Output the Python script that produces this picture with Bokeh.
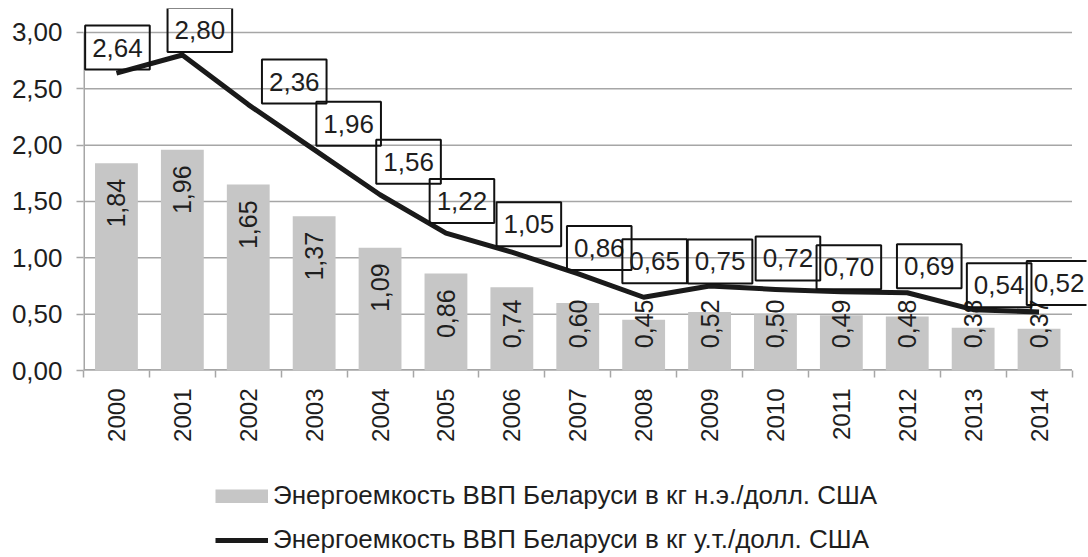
import math
from bokeh.plotting import figure
from bokeh.layouts import column
from bokeh.models import (Range1d, FixedTicker, CustomJSTickFormatter, Legend,
                          LegendItem, Label, ColumnDataSource)
from bokeh.core.properties import value
from bokeh.embed import file_html
from bokeh.resources import INLINE

# ---------------- data ----------------
years = ["2000", "2001", "2002", "2003", "2004", "2005", "2006", "2007",
         "2008", "2009", "2010", "2011", "2012", "2013", "2014"]
energy_toe = [1.84, 1.96, 1.65, 1.37, 1.09, 0.86, 0.74, 0.60,
              0.45, 0.52, 0.50, 0.49, 0.48, 0.38, 0.37]
energy_tce = [2.64, 2.80, 2.36, 1.96, 1.56, 1.22, 1.05, 0.86,
              0.65, 0.75, 0.72, 0.70, 0.69, 0.54, 0.52]
y_ticks = [0.0, 0.5, 1.0, 1.5, 2.0, 2.5, 3.0]
series_names = ["Энергоемкость ВВП Беларуси в кг н.э./долл. США",
                "Энергоемкость ВВП Беларуси в кг у.т./долл. США"]

# label offsets for the boxed line labels (screen px)
label_dx = [1, 17.5, 46, 34.5, 28.5, 16, 17, 21.5, 11, 10.5, 12.5, 7.5, 22, 26, 20]
label_dy = [25.5, 25, 23, 26, 33, 32, 28, 25.5, 36, 24.6, 31, 24.5, 26.5, 24.5, 29]

FONT = "Liberation Sans"
TXT = "#1e1e1e"
GRID = "#a6a6a6"
BAR = "#c6c6c6"
LINE = "#1a1a1a"

n = len(years)
xs = list(range(n))
x_lo, x_hi = -0.5, n - 0.5
y_lo, y_hi = y_ticks[0], y_ticks[-1]
bar_label_y = [max(v - 0.14, 0.63) for v in energy_toe]
src = ColumnDataSource(dict(x=xs, toe=energy_toe, tce=energy_tce,
                            txt=[f"{v:.2f}".replace(".", ",") for v in energy_toe],
                            ly=bar_label_y))

# frame extended a little above/right so that the boxed labels are not clipped
p = figure(width=1088, height=445, x_range=Range1d(x_lo, x_hi + 0.22),
           y_range=Range1d(y_lo, y_hi * 1.071), output_backend="svg",
           toolbar_location=None,
           min_border_left=83, min_border_right=2, min_border_top=8,
           min_border_bottom=75)
p.outline_line_color = None
p.background_fill_color = "white"
p.border_fill_color = "white"

# grid lines and axis lines (limited to the category span)
p.segment(x0=[x_lo] * len(y_ticks), y0=y_ticks, x1=[x_hi] * len(y_ticks), y1=y_ticks,
          line_color=GRID, line_width=1.5)
p.segment(x0=[x_lo], y0=[y_lo], x1=[x_lo], y1=[y_hi], line_color=GRID, line_width=3)
p.segment(x0=[x_lo], y0=[y_lo], x1=[x_hi], y1=[y_lo], line_color=GRID, line_width=3)

bars = p.vbar(x="x", top="toe", width=0.65, source=src, fill_color=BAR, line_color=None)
p.text(x="x", y="ly", text="txt", source=src, angle=math.pi / 2,
       text_align="right", text_baseline="middle",
       text_font=value(FONT), text_font_size="25px", text_color=TXT)

line = p.line(x="x", y="tce", source=src, line_color=LINE, line_width=5,
              line_join="round")

for i, v in enumerate(energy_tce):
    p.add_layout(Label(x=xs[i], y=v, text=f"{v:.2f}".replace(".", ","),
                       x_offset=label_dx[i], y_offset=label_dy[i],
                       text_align="center", text_baseline="middle",
                       text_font=FONT, text_font_size="26px", text_color=TXT,
                       border_line_color="#111111", border_line_width=2,
                       padding=dict(x=7, y=13)))

# axes
xa = p.xaxis[0]
xa.ticker = FixedTicker(ticks=xs, minor_ticks=[i - 0.5 for i in range(n + 1)])
xa.formatter = CustomJSTickFormatter(args=dict(labels=years),
                                     code="return labels[Math.round(tick)] || '';")
xa.major_tick_out = 0
xa.major_tick_in = 0
xa.minor_tick_out = 7
xa.minor_tick_in = 0
xa.minor_tick_line_color = GRID
xa.minor_tick_line_width = 1.5
xa.axis_line_color = None
xa.major_label_orientation = math.pi / 2
xa.major_label_standoff = 11
xa.major_label_text_font = FONT
xa.major_label_text_font_size = "24px"
xa.major_label_text_color = TXT

ya = p.yaxis[0]
ya.ticker = FixedTicker(ticks=y_ticks, minor_ticks=[])
ya.formatter = CustomJSTickFormatter(code="return tick.toFixed(2).replace('.', ',');")
ya.major_tick_out = 7
ya.major_tick_in = 0
ya.major_tick_line_color = GRID
ya.major_tick_line_width = 1.5
ya.axis_line_color = None
ya.major_label_standoff = 14
ya.major_label_text_font = FONT
ya.major_label_text_font_size = "26px"
ya.major_label_text_color = TXT

p.xgrid.grid_line_color = None
p.ygrid.grid_line_color = None

# ---------------- legend in a separate strip below ----------------
lg = figure(width=1088, height=112, x_range=Range1d(0, 1), y_range=Range1d(0, 1),
            output_backend="svg", toolbar_location=None,
            x_axis_location=None, y_axis_location=None,
            min_border_left=0, min_border_right=0, min_border_top=0,
            min_border_bottom=0)
lg.outline_line_color = None
lg.xgrid.grid_line_color = None
lg.ygrid.grid_line_color = None
# swatch renderers kept outside the strip's visible range: only their legend glyphs show
sw_bar = lg.line(x=[5, 6], y=[5, 5], line_color=BAR, line_width=14, line_cap="butt")
sw_line = lg.line(x=[5, 6], y=[5, 5], line_color=LINE, line_width=5)
legend = Legend(items=[LegendItem(label=series_names[0], renderers=[sw_bar]),
                       LegendItem(label=series_names[1], renderers=[sw_line])],
                location=(132, 2), orientation="vertical",
                glyph_width=53, glyph_height=14, label_height=30,
                label_standoff=5, spacing=13, padding=0, margin=0,
                border_line_color=None, background_fill_alpha=0,
                label_text_font=FONT, label_text_font_size="26px",
                label_text_color=TXT)
lg.add_layout(legend)

layout = column(p, lg, spacing=0)
open("out.html", "w").write(file_html(layout, INLINE))
